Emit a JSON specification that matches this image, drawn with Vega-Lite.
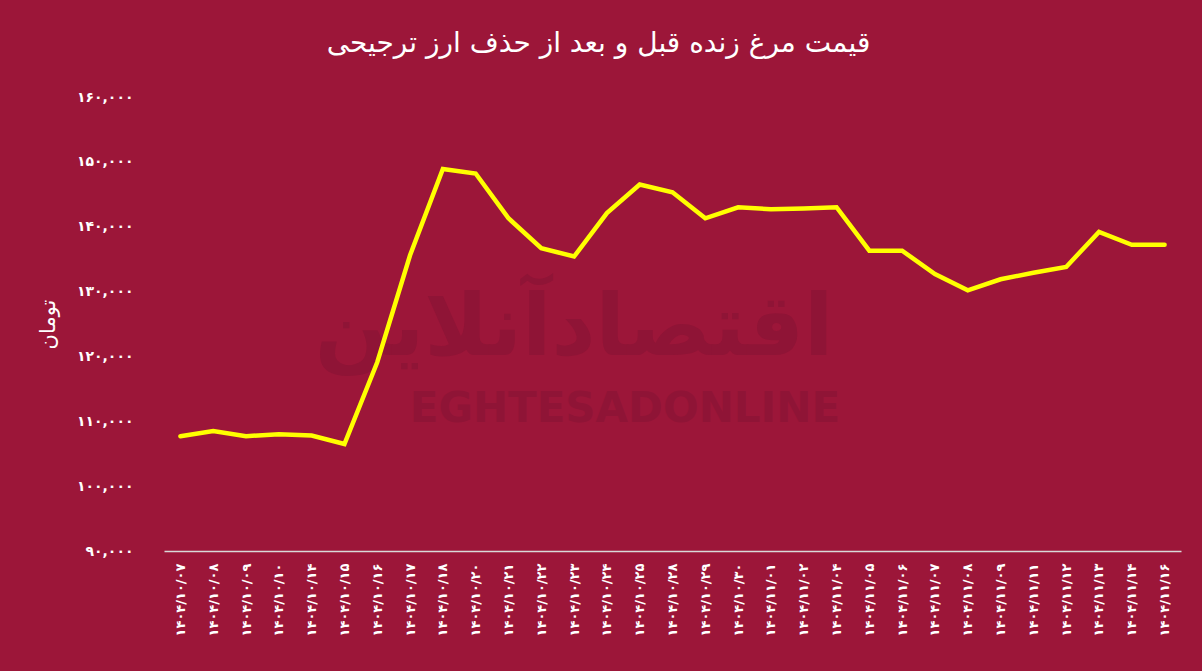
{
  "$schema": "https://vega.github.io/schema/vega-lite/v6.json",
  "width": 1017,
  "height": 454,
  "autosize": {"type": "none"},
  "padding": {"left": 164, "top": 97, "right": 21, "bottom": 120},
  "background": "#9c1639",
  "config": {
    "view": {"stroke": null},
    "font": "DejaVu Sans"
  },
  "title": {
    "text": "قیمت مرغ زنده قبل و بعد از حذف ارز ترجیحی",
    "anchor": "middle",
    "dx": -74,
    "offset": 32,
    "color": "#ffffff",
    "fontSize": 28,
    "fontWeight": "normal",
    "font": "DejaVu Sans"
  },
  "datasets": {
    "prices": [
      {"date": "۱۴۰۴/۱۰/۰۷", "price": 107700},
      {"date": "۱۴۰۴/۱۰/۰۸", "price": 108500},
      {"date": "۱۴۰۴/۱۰/۰۹", "price": 107700},
      {"date": "۱۴۰۴/۱۰/۱۰", "price": 108000},
      {"date": "۱۴۰۴/۱۰/۱۴", "price": 107800},
      {"date": "۱۴۰۴/۱۰/۱۵", "price": 106500},
      {"date": "۱۴۰۴/۱۰/۱۶", "price": 119100},
      {"date": "۱۴۰۴/۱۰/۱۷", "price": 135600},
      {"date": "۱۴۰۴/۱۰/۱۸", "price": 148900},
      {"date": "۱۴۰۴/۱۰/۲۰", "price": 148200},
      {"date": "۱۴۰۴/۱۰/۲۱", "price": 141300},
      {"date": "۱۴۰۴/۱۰/۲۲", "price": 136700},
      {"date": "۱۴۰۴/۱۰/۲۳", "price": 135400},
      {"date": "۱۴۰۴/۱۰/۲۴", "price": 142100},
      {"date": "۱۴۰۴/۱۰/۲۵", "price": 146500},
      {"date": "۱۴۰۴/۱۰/۲۸", "price": 145300},
      {"date": "۱۴۰۴/۱۰/۲۹", "price": 141300},
      {"date": "۱۴۰۴/۱۰/۳۰", "price": 143000},
      {"date": "۱۴۰۴/۱۱/۰۱", "price": 142700},
      {"date": "۱۴۰۴/۱۱/۰۲", "price": 142800},
      {"date": "۱۴۰۴/۱۱/۰۴", "price": 143000},
      {"date": "۱۴۰۴/۱۱/۰۵", "price": 136300},
      {"date": "۱۴۰۴/۱۱/۰۶", "price": 136300},
      {"date": "۱۴۰۴/۱۱/۰۷", "price": 132700},
      {"date": "۱۴۰۴/۱۱/۰۸", "price": 130200},
      {"date": "۱۴۰۴/۱۱/۰۹", "price": 131900},
      {"date": "۱۴۰۴/۱۱/۱۱", "price": 132900},
      {"date": "۱۴۰۴/۱۱/۱۲", "price": 133800},
      {"date": "۱۴۰۴/۱۱/۱۳", "price": 139200},
      {"date": "۱۴۰۴/۱۱/۱۴", "price": 137200},
      {"date": "۱۴۰۴/۱۱/۱۶", "price": 137200}
    ],
    "watermark": [
      {"date": "۱۴۰۴/۱۰/۲۳", "price": 124200, "wm": "اقتصادآنلاین", "kind": "fa"},
      {"date": "۱۴۰۴/۱۰/۲۴", "price": 111900, "wm": "EGHTESADONLINE", "kind": "en"}
    ]
  },
  "encoding": {
    "x": {
      "field": "date",
      "type": "nominal",
      "scale": {
        "type": "point",
        "padding": 0.5,
        "domain": ["۱۴۰۴/۱۰/۰۷", "۱۴۰۴/۱۰/۰۸", "۱۴۰۴/۱۰/۰۹", "۱۴۰۴/۱۰/۱۰", "۱۴۰۴/۱۰/۱۴", "۱۴۰۴/۱۰/۱۵", "۱۴۰۴/۱۰/۱۶", "۱۴۰۴/۱۰/۱۷", "۱۴۰۴/۱۰/۱۸", "۱۴۰۴/۱۰/۲۰", "۱۴۰۴/۱۰/۲۱", "۱۴۰۴/۱۰/۲۲", "۱۴۰۴/۱۰/۲۳", "۱۴۰۴/۱۰/۲۴", "۱۴۰۴/۱۰/۲۵", "۱۴۰۴/۱۰/۲۸", "۱۴۰۴/۱۰/۲۹", "۱۴۰۴/۱۰/۳۰", "۱۴۰۴/۱۱/۰۱", "۱۴۰۴/۱۱/۰۲", "۱۴۰۴/۱۱/۰۴", "۱۴۰۴/۱۱/۰۵", "۱۴۰۴/۱۱/۰۶", "۱۴۰۴/۱۱/۰۷", "۱۴۰۴/۱۱/۰۸", "۱۴۰۴/۱۱/۰۹", "۱۴۰۴/۱۱/۱۱", "۱۴۰۴/۱۱/۱۲", "۱۴۰۴/۱۱/۱۳", "۱۴۰۴/۱۱/۱۴", "۱۴۰۴/۱۱/۱۶"]
      },
      "axis": {
        "title": null,
        "labelAngle": -90,
        "labelAlign": "right",
        "labelBaseline": "middle",
        "labelColor": "#ffffff",
        "labelFontSize": 13,
        "labelFontWeight": "bold",
        "labelPadding": 12,
        "labelFont": "DejaVu Sans",
        "ticks": false,
        "domainColor": "#d9d9d9",
        "domainWidth": 1.5,
        "grid": false
      }
    },
    "y": {
      "field": "price",
      "type": "quantitative",
      "scale": {"domain": [90000, 160000], "nice": false, "zero": false},
      "axis": {
        "title": "تومان",
        "titleColor": "#ffffff",
        "titleFontSize": 21,
        "titleFontWeight": "normal",
        "titleFont": "DejaVu Sans",
        "titlePadding": 18,
        "values": [90000, 100000, 110000, 120000, 130000, 140000, 150000, 160000],
        "labelExpr": "replace(replace(replace(replace(replace(replace(replace(replace(replace(replace(format(datum.value, ','), regexp('0','g'), '۰'), regexp('1','g'), '۱'), regexp('2','g'), '۲'), regexp('3','g'), '۳'), regexp('4','g'), '۴'), regexp('5','g'), '۵'), regexp('6','g'), '۶'), regexp('7','g'), '۷'), regexp('8','g'), '۸'), regexp('9','g'), '۹')",
        "labelColor": "#ffffff",
        "labelFontSize": 14,
        "labelFontWeight": "bold",
        "labelFont": "DejaVu Sans",
        "labelPadding": 31,
        "ticks": false,
        "domain": false,
        "grid": false
      }
    }
  },
  "layer": [
    {
      "data": {"name": "watermark"},
      "transform": [{"filter": "datum.kind == 'fa'"}],
      "mark": {"type": "text", "font": "DejaVu Sans", "fontWeight": "bold", "fontSize": 86, "fill": "#8f1436", "baseline": "middle"},
      "encoding": {"text": {"field": "wm"}}
    },
    {
      "data": {"name": "watermark"},
      "transform": [{"filter": "datum.kind == 'en'"}],
      "mark": {"type": "text", "font": "DejaVu Sans", "fontWeight": "bold", "fontSize": 42, "fill": "#8f1436", "baseline": "middle", "dx": 18},
      "encoding": {"text": {"field": "wm"}}
    },
    {
      "data": {"name": "prices"},
      "mark": {"type": "line", "color": "#ffff00", "strokeWidth": 4.5, "strokeCap": "round", "strokeJoin": "miter"},
      "encoding": {}
    }
  ]
}
